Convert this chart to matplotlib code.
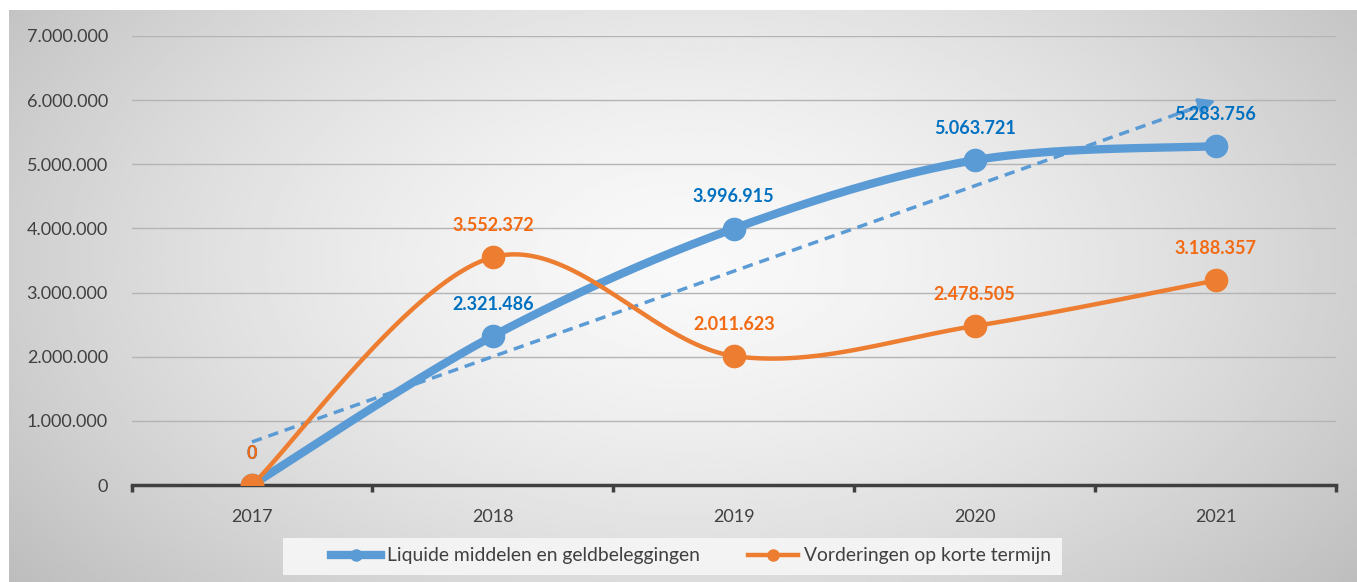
import matplotlib.pyplot as plt
import numpy as np
from matplotlib.lines import Line2D
from matplotlib.patches import Rectangle
from matplotlib.ticker import FixedLocator, FuncFormatter

years = ["2017", "2018", "2019", "2020", "2021"]
liquide = [0, 2321486, 3996915, 5063721, 5283756]
vorderingen = [0, 3552372, 2011623, 2478505, 3188357]
name_liquide = "Liquide middelen en geldbeleggingen"
name_vorderingen = "Vorderingen op korte termijn"

BLUE = "#5B9BD5"
BLUE_TEXT = "#0070C0"
ORANGE = "#ED7D31"
ORANGE_TEXT = "#F36A12"
TEXT = "#404040"

plt.rcParams["font.family"] = ["Lato", "DejaVu Sans"]


def fmt(v, _=None):
  return f"{v:,.0f}".replace(",", ".")


def smooth(x, y, sx, sy, n=40):
  # excel style smoothed line: catmull-rom as cubic bezier segments
  pts = np.column_stack([np.asarray(x, float) * sx, np.asarray(y, float) * sy])
  ext = np.vstack([pts[0], pts, pts[-1]])
  t = np.linspace(0, 1, n)[:, None]
  segs = []
  for i in range(len(pts) - 1):
    p0, p1, p2, p3 = ext[i], ext[i + 1], ext[i + 2], ext[i + 3]
    c1 = p1 + (p2 - p0) / 6
    c2 = p2 - (p3 - p1) / 6
    segs.append((1 - t) ** 3 * p1 + 3 * (1 - t) ** 2 * t * c1
                + 3 * (1 - t) * t ** 2 * c2 + t ** 3 * p2)
  out = np.vstack(segs)
  return out[:, 0] / sx, out[:, 1] / sy


W, H = 1357, 582
fig = plt.figure(figsize=(W / 100, H / 100), dpi=100)

# grey radial gradient behind the chart
bg = fig.add_axes([9 / W, 0, 1 - 9 / W, 1 - 10 / H], zorder=-10)
gx, gy = np.meshgrid(np.linspace(9, W, 400), np.linspace(10, H, 200))
r = np.sqrt(((gx - 690) / 700) ** 2 + ((gy - 260) / 420) ** 2)
shade = 0.975 - 0.17 * np.clip(r, 0, 1.3) ** 1.5
bg.imshow(shade, cmap="gray", vmin=0, vmax=1, aspect="auto",
          extent=[0, 1, 1, 0], interpolation="bilinear")
bg.set_xlim(0, 1)
bg.set_ylim(1, 0)
bg.axis("off")

ax = fig.add_axes([131.5 / W, 97 / H, (1336 - 131.5) / W, (485 - 36) / H])
ax.set_facecolor("none")
xs = np.arange(len(years))
ax.set_xlim(-0.5, len(years) - 0.5)
ax.set_ylim(0, 7000000)

sx = 241.0
sy = 64.1 / 1e6

# trend line of liquide middelen
coef = np.polyfit(xs, liquide, 1)
tx = np.array([xs[0], xs[-1]], float)
ty = np.polyval(coef, tx)
ax.plot(tx, ty, color=BLUE, lw=2.5, ls=(0, (3, 2)), zorder=3)
ax.annotate("", xy=(tx[1], ty[1]), xytext=(tx[1] - 0.15, np.polyval(coef, tx[1] - 0.15)),
            arrowprops=dict(arrowstyle="-|>", color=BLUE, lw=2.5, mutation_scale=24,
                            shrinkA=0, shrinkB=0), zorder=3)

for vals, color, lw, tcolor in [(liquide, BLUE, 6, BLUE_TEXT),
                                (vorderingen, ORANGE, 3.2, ORANGE_TEXT)]:
  cx, cy = smooth(xs, vals, sx, sy)
  ax.plot(cx, cy, color=color, lw=lw, solid_capstyle="round", zorder=4)
  ax.plot(xs, vals, ls="none", marker="o", ms=16, color=color, zorder=5)
  for x, v in zip(xs, vals):
    ax.annotate(fmt(v), (x, v), xytext=(0, 23), textcoords="offset points",
                ha="center", va="center", color=tcolor, fontsize=13,
                fontweight="bold", zorder=6)

ax.yaxis.set_major_locator(FixedLocator(np.arange(0, 7000001, 1000000)))
ax.yaxis.set_major_formatter(FuncFormatter(fmt))
ax.grid(axis="y", color="#b4b4b4", lw=1)
ax.set_axisbelow(True)
ax.set_xticks(xs)
ax.set_xticklabels(years)
ax.set_xticks(np.arange(-0.5, len(years)), minor=True)
ax.tick_params(axis="x", which="major", length=0, pad=17, labelsize=13, labelcolor=TEXT)
ax.tick_params(axis="x", which="minor", length=5, width=2.5, color=TEXT, direction="out")
ax.tick_params(axis="y", length=0, pad=17, labelsize=13, labelcolor=TEXT)
for side in ["top", "right", "left"]:
  ax.spines[side].set_visible(False)
ax.spines["bottom"].set_color(TEXT)
ax.spines["bottom"].set_linewidth(2.5)
ax.spines["bottom"].set_zorder(2.5)

# legend box
fig.patches.append(Rectangle((283 / W, 1 - 575 / H), (1062 - 283) / W, 37 / H,
                             transform=fig.transFigure, facecolor="#f3f3f3",
                             edgecolor="none", zorder=-5))
handles = [Line2D([], [], color=BLUE, lw=6, marker="o", ms=8),
           Line2D([], [], color=ORANGE, lw=3.2, marker="o", ms=8)]
fig.legend(handles, [name_liquide, name_vorderingen], loc="center left",
           bbox_to_anchor=(331 / W, 1 - 556 / H), ncol=2, fontsize=13.9,
           frameon=False, handlelength=2.6, handletextpad=0.3,
           columnspacing=2.5, borderpad=0, borderaxespad=0, labelcolor=TEXT)

fig.savefig("out.png", dpi=100)
